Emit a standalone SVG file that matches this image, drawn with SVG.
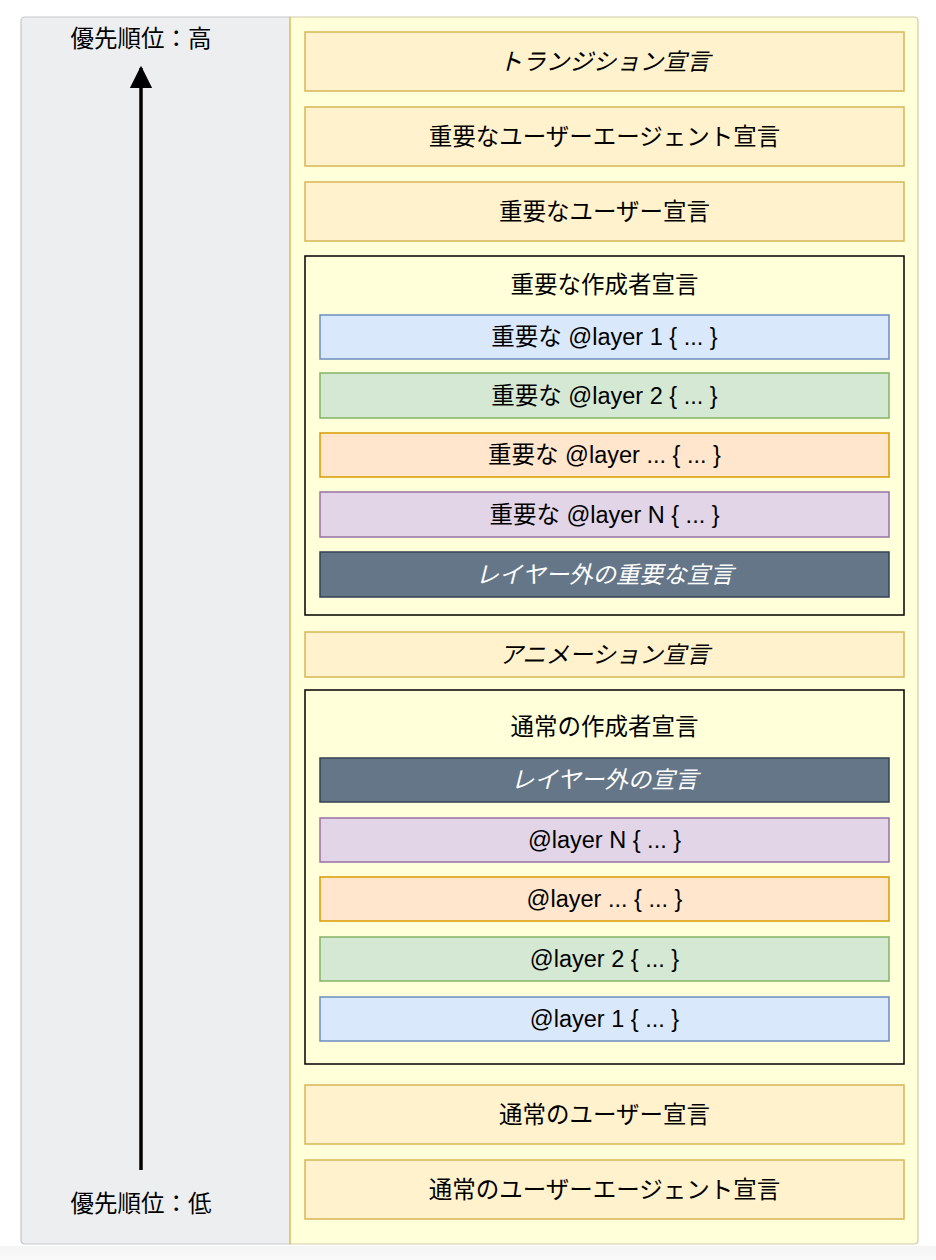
<svg xmlns="http://www.w3.org/2000/svg" width="936" height="1260" viewBox="0 0 936 1260">
<style>
text{font-family:"Liberation Sans","Noto Sans CJK JP",sans-serif;font-size:23.5px;fill:#000;text-anchor:middle;dominant-baseline:central}
.it{font-style:italic}
.w{fill:#fff}
.y{fill:#FFF2CC;stroke:#D6B656;stroke-width:1.5}
.grp{fill:#FFFFD9;stroke:#000;stroke-width:1.5}
.b{fill:#DAE8FC;stroke:#6C8EBF;stroke-width:1.5}
.g{fill:#D5E8D4;stroke:#82B366;stroke-width:1.5}
.o{fill:#FFE6CC;stroke:#D79B00;stroke-width:1.5}
.p{fill:#E1D5E7;stroke:#9673A6;stroke-width:1.5}
.d{fill:#647687;stroke:#314354;stroke-width:1.5}
</style>
<defs>
<marker id="ah" viewBox="0 0 10 10" refX="9" refY="5" markerWidth="6.5" markerHeight="6.5" markerUnits="strokeWidth" orient="auto">
<path d="M0,0 L10,5 L0,10 Z" fill="#000"/>
</marker>
<linearGradient id="sh" x1="0" y1="0" x2="0" y2="1"><stop offset="0" stop-color="#f4f4f4"/><stop offset="1" stop-color="#fafafa"/></linearGradient>
</defs>
<rect width="936" height="1260" fill="#fff"/>
<rect x="0" y="1246" width="936" height="14" fill="url(#sh)"/>
<g id="frame">
<path d="M25,17 H290 V1244 H25 Q21,1244 21,1240 V21 Q21,17 25,17 Z" fill="#EDEEF0" stroke="#C6C8CC" stroke-width="1.2"/>
<path d="M290,17 H914 Q918,17 918,21 V1240 Q918,1244 914,1244 H290 Z" fill="#FFFFD9" stroke="#D0C9A8" stroke-width="1.2"/>
<line x1="290" y1="17" x2="290" y2="1244" stroke="#E3C66E" stroke-width="1.5"/>
</g>
<g id="label-high"><text x="141" y="39">優先順位：高</text></g>
<g id="label-low"><text x="141" y="1204">優先順位：低</text></g>
<g id="connectors">
<line x1="141" y1="1170" x2="141" y2="68" stroke="#000" stroke-width="3.5" marker-end="url(#ah)"/>
</g>
<g id="transition"><rect class="y" x="305" y="32" width="599" height="59"/><text class="it" x="604.5" y="61.5">トランジション宣言</text></g>
<g id="important-ua"><rect class="y" x="305" y="107" width="599" height="59"/><text x="604.5" y="136.5">重要なユーザーエージェント宣言</text></g>
<g id="important-user"><rect class="y" x="305" y="182" width="599" height="59"/><text x="604.5" y="211.5">重要なユーザー宣言</text></g>
<g id="important-author">
<rect class="grp" x="305" y="256" width="599" height="359"/>
<text x="604.5" y="285">重要な作成者宣言</text>
<g id="imp-layer1"><rect class="b" x="320" y="315" width="569" height="44"/><text x="604.5" y="337">重要な @layer 1 { ... }</text></g>
<g id="imp-layer2"><rect class="g" x="320" y="373" width="569" height="45"/><text x="604.5" y="395.5">重要な @layer 2 { ... }</text></g>
<g id="imp-layerx"><rect class="o" x="320" y="433" width="569" height="44"/><text x="604.5" y="455">重要な @layer ... { ... }</text></g>
<g id="imp-layerN"><rect class="p" x="320" y="492" width="569" height="45"/><text x="604.5" y="514.5">重要な @layer N { ... }</text></g>
<g id="imp-unlayered"><rect class="d" x="320" y="552" width="569" height="45"/><text class="it w" x="604.5" y="574.5">レイヤー外の重要な宣言</text></g>
</g>
<g id="animation"><rect class="y" x="305" y="632" width="599" height="45"/><text class="it" x="604.5" y="654.5">アニメーション宣言</text></g>
<g id="normal-author">
<rect class="grp" x="305" y="690" width="599" height="374"/>
<text x="604.5" y="727">通常の作成者宣言</text>
<g id="unlayered"><rect class="d" x="320" y="758" width="569" height="44"/><text class="it w" x="604.5" y="780">レイヤー外の宣言</text></g>
<g id="layerN"><rect class="p" x="320" y="818" width="569" height="44"/><text x="604.5" y="840">@layer N { ... }</text></g>
<g id="layerx"><rect class="o" x="320" y="877" width="569" height="44"/><text x="604.5" y="899">@layer ... { ... }</text></g>
<g id="layer2"><rect class="g" x="320" y="937" width="569" height="44"/><text x="604.5" y="959">@layer 2 { ... }</text></g>
<g id="layer1"><rect class="b" x="320" y="997" width="569" height="44"/><text x="604.5" y="1019">@layer 1 { ... }</text></g>
</g>
<g id="normal-user"><rect class="y" x="305" y="1085" width="599" height="59"/><text x="604.5" y="1114.5">通常のユーザー宣言</text></g>
<g id="normal-ua"><rect class="y" x="305" y="1160" width="599" height="59"/><text x="604.5" y="1189.5">通常のユーザーエージェント宣言</text></g>
</svg>
